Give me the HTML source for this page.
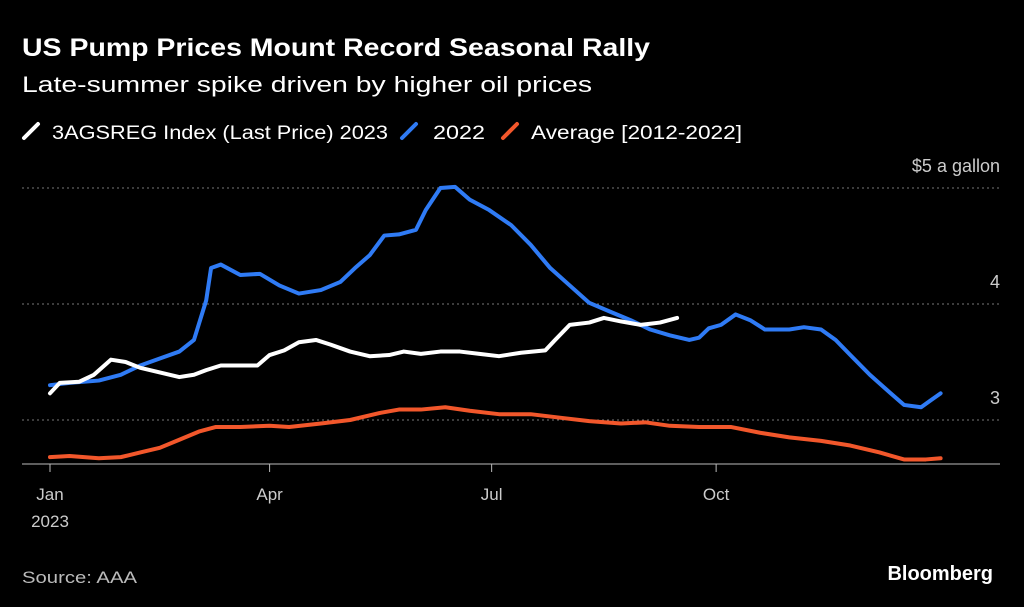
<!DOCTYPE html>
<html><head><meta charset="utf-8"><style>
body{margin:0;background:#000;width:1024px;height:607px;overflow:hidden;font-family:"Liberation Sans",sans-serif;color:#fff}
svg{position:absolute;left:0;top:0}
</style></head><body>
<svg width="1024" height="607" id="chart">
<text x="22" y="56" font-size="25" font-weight="bold" fill="#fff" textLength="628" lengthAdjust="spacingAndGlyphs">US Pump Prices Mount Record Seasonal Rally</text>
<text x="22" y="92" font-size="22" fill="#fff" textLength="570" lengthAdjust="spacingAndGlyphs">Late-summer spike driven by higher oil prices</text>
<g font-size="19" fill="#fff">
<line x1="24" y1="138" x2="38" y2="124" stroke="#fff" stroke-width="4" stroke-linecap="round"/>
<text x="52" y="139" textLength="336" lengthAdjust="spacingAndGlyphs">3AGSREG Index (Last Price) 2023</text>
<line x1="402" y1="138" x2="416" y2="124" stroke="#2f7bf5" stroke-width="4" stroke-linecap="round"/>
<text x="433" y="139" textLength="52" lengthAdjust="spacingAndGlyphs">2022</text>
<line x1="503" y1="138" x2="517" y2="124" stroke="#f2572b" stroke-width="4" stroke-linecap="round"/>
<text x="531" y="139" textLength="211" lengthAdjust="spacingAndGlyphs">Average [2012-2022]</text>
</g>
<g id="axes"></g>
<g id="series"></g>
<text x="22" y="583" font-size="17" fill="#bbb" textLength="115" lengthAdjust="spacingAndGlyphs">Source: AAA</text>
<text x="993" y="580" font-size="20" font-weight="bold" fill="#fff" text-anchor="end">Bloomberg</text>
</svg>
<script>
const yTicks=[5,4,3];
const yTickLabels=["$5 a gallon","4","3"];
const xTickDays=[0,90,181,273];
const xTickLabels=["Jan","Apr","Jul","Oct"];
const days2023=[0,4,12,18,25,31,37,45,53,59,64,70,78,85,90,96,102,109,115,123,131,139,145,152,160,168,176,184,193,203,207,213,221,227,234,242,250,257];
const values2023=[3.23,3.32,3.33,3.39,3.52,3.50,3.45,3.41,3.37,3.39,3.43,3.47,3.47,3.47,3.56,3.60,3.67,3.69,3.65,3.59,3.55,3.56,3.59,3.57,3.59,3.59,3.57,3.55,3.58,3.60,3.69,3.82,3.84,3.88,3.85,3.82,3.84,3.88];
const days2022=[0,8,20,29,37,45,53,59,64,66,70,78,86,94,102,111,119,125,131,137,143,150,154,160,166,172,180,189,197,205,213,221,230,238,246,254,262,266,270,275,281,287,293,303,309,316,322,328,336,344,350,357,361,365];
const values2022=[3.30,3.32,3.34,3.39,3.47,3.53,3.59,3.69,4.03,4.31,4.34,4.25,4.26,4.16,4.09,4.12,4.19,4.31,4.42,4.59,4.60,4.64,4.81,5.00,5.01,4.90,4.81,4.68,4.51,4.31,4.16,4.01,3.93,3.86,3.78,3.73,3.69,3.71,3.79,3.82,3.91,3.86,3.78,3.78,3.80,3.78,3.69,3.56,3.39,3.24,3.13,3.11,3.17,3.23];
const daysAvg=[0,8,20,29,37,45,53,61,68,78,90,98,111,123,135,143,152,162,172,184,197,209,221,234,244,254,266,279,291,303,316,328,340,350,359,365];
const valuesAvg=[2.68,2.69,2.67,2.68,2.72,2.76,2.83,2.90,2.94,2.94,2.95,2.94,2.97,3.00,3.06,3.09,3.09,3.11,3.08,3.05,3.05,3.02,2.99,2.97,2.98,2.95,2.94,2.94,2.89,2.85,2.82,2.78,2.72,2.66,2.66,2.67];
const NS="http://www.w3.org/2000/svg";
const X=d=>50+d*2.44;
const Y=v=>304-(v-4)*116;
const axes=document.getElementById('axes'),series=document.getElementById('series');
function mk(tag,attrs,parent){const e=document.createElementNS(NS,tag);for(const k in attrs)e.setAttribute(k,attrs[k]);parent.appendChild(e);return e;}
yTicks.forEach((t,i)=>{
  const g=mk('line',{x1:22,x2:1000,y1:Y(t),y2:Y(t),stroke:'#777','stroke-width':1,'stroke-dasharray':'2,3'},axes);
  
  
  const l=mk('text',{x:1000,y:Y(t)-16,'font-size':18,fill:'#ccc','text-anchor':'end'},axes);
  l.textContent=yTickLabels[i];
  
  
});
const ax=mk('line',{x1:22,x2:1000,y1:464,y2:464,stroke:'#bbb','stroke-width':1},axes);


xTickDays.forEach((d,i)=>{
  const t=mk('line',{x1:X(d),x2:X(d),y1:464,y2:472,stroke:'#bbb'},axes);
  
  
  const l=mk('text',{x:X(d),y:500,'font-size':17,fill:'#ccc','text-anchor':'middle'},axes);
  l.textContent=xTickLabels[i];
  
  
});
const yr=mk('text',{x:X(0),y:527,'font-size':17,fill:'#ccc','text-anchor':'middle'},axes);
yr.textContent='2023';


function line(ds,vs,color,name){
  const p=mk('polyline',{points:ds.map((d,i)=>X(d)+','+Y(vs[i])).join(' '),fill:'none',stroke:color,'stroke-width':4,'stroke-linejoin':'round','stroke-linecap':'round'},series);
  
  
}
line(daysAvg,valuesAvg,'#f2572b','average-line');
line(days2022,values2022,'#2f7bf5','line-2022');
line(days2023,values2023,'#ffffff','line-2023');
</script>
</body></html>
